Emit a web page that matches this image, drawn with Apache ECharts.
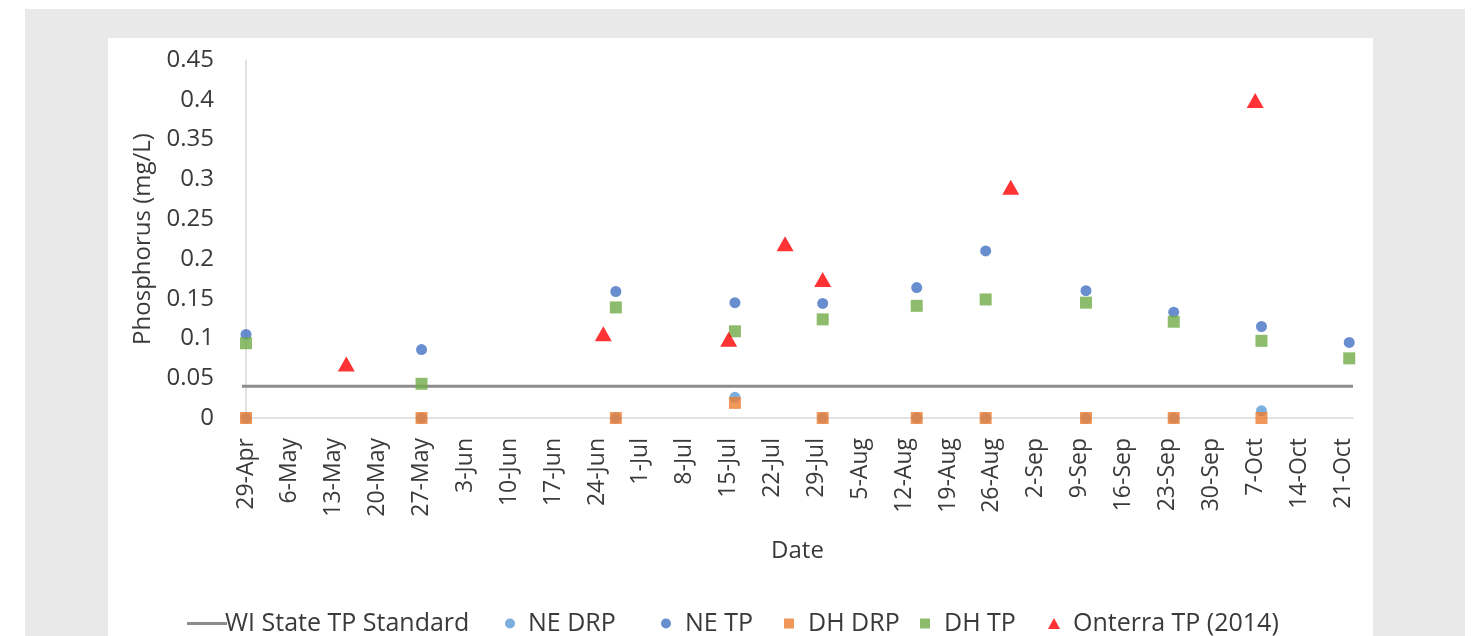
<!DOCTYPE html>
<html>
<head>
<meta charset="utf-8">
<script src="https://cdn.jsdelivr.net/npm/echarts@6/dist/echarts.min.js"></script>
<style>
  html, body { margin: 0; padding: 0; width: 1473px; height: 636px; background: #ffffff; overflow: hidden; }
  #frame { position: absolute; left: 25px; top: 9px; width: 1440px; height: 627px; background: #e9e9e9; }
  #panel { position: absolute; left: 108px; top: 38px; width: 1265px; height: 598px; background: #ffffff; }
  #chart { position: absolute; left: 0; top: 0; width: 1473px; height: 636px; }
</style>
</head>
<body>
<div id="frame"></div>
<div id="panel"></div>
<div id="chart"></div>
<script>
// Weekly date ticks along the season axis
const xTickLabels = ['29-Apr', '6-May', '13-May', '20-May', '27-May', '3-Jun', '10-Jun', '17-Jun', '24-Jun',
  '1-Jul', '8-Jul', '15-Jul', '22-Jul', '29-Jul', '5-Aug', '12-Aug', '19-Aug', '26-Aug', '2-Sep', '9-Sep',
  '16-Sep', '23-Sep', '30-Sep', '7-Oct', '14-Oct', '21-Oct'];
const yTickLabels = ['0', '0.05', '0.1', '0.15', '0.2', '0.25', '0.3', '0.35', '0.4', '0.45'];

// Sampling dates at the NE and DH sites
const sampleDates = ['29-Apr', '27-May', '27-Jun', '16-Jul', '30-Jul', '14-Aug', '25-Aug', '10-Sep', '24-Sep', '8-Oct', '22-Oct'];
const neDRP = [0, 0, 0, 0.026, 0, 0, 0, 0, 0, 0.009, null];
const neTP  = [0.105, 0.086, 0.159, 0.145, 0.144, 0.164, 0.210, 0.160, 0.133, 0.115, 0.095];
const dhDRP = [0, 0, 0, 0.019, 0, 0, 0, 0, 0, 0, null];
const dhTP  = [0.094, 0.043, 0.139, 0.109, 0.124, 0.141, 0.149, 0.145, 0.121, 0.097, 0.075];

// Onterra 2014 total phosphorus
const onterraDates = ['15-May', '25-Jun', '15-Jul', '24-Jul', '30-Jul', '29-Aug', '7-Oct'];
const onterraTP    = [0.068, 0.106, 0.099, 0.219, 0.174, 0.290, 0.399];

// Wisconsin state total phosphorus standard (mg/L)
const stateStandard = 0.04;

// Axis span in days from 29-Apr
const axisMin = -0.64;
const axisMax = 176.6;

const monthStart = { Apr: 90, May: 120, Jun: 151, Jul: 181, Aug: 212, Sep: 243, Oct: 273 };
function dayOf(label) {
  const [d, m] = label.split('-');
  return monthStart[m] + Number(d) - (monthStart.Apr + 29);
}
function pairs(dates, values) {
  return dates.map((d, i) => [dayOf(d), values[i]]).filter(p => p[1] !== null);
}
const tickDays = xTickLabels.map(dayOf);
const tickLabelByDay = {};
xTickLabels.forEach((l, i) => { tickLabelByDay[tickDays[i]] = l; });

const FONT = 'Open Sans';
const TEXT = '#3a3a3a';
const LEGEND_TOP = 606;

// One legend block per entry so each sits at its own spot along the bottom row
function legendEntry(name, icon, left, w, h, gap) {
  return {
    data: [{ name: name, icon: icon }],
    left: left, top: LEGEND_TOP, height: 28,
    itemWidth: w, itemHeight: h,
    textStyle: { fontFamily: FONT, fontSize: 25, color: TEXT, padding: [0, 0, 0, gap] }
  };
}

const chart = echarts.init(document.getElementById('chart'), null, { renderer: 'canvas' });
chart.setOption({
  backgroundColor: 'transparent',
  animation: false,
  textStyle: { fontFamily: FONT },
  grid: { left: 242, right: 120, top: 60, bottom: 218, containLabel: false },
  xAxis: {
    type: 'value',
    min: axisMin,
    max: axisMax,
    name: 'Date',
    nameLocation: 'middle',
    nameGap: 121,
    nameTextStyle: { fontFamily: FONT, fontSize: 24, color: TEXT },
    axisLine: { show: true, lineStyle: { color: '#d9d9d9', width: 1.5 } },
    axisTick: { show: false },
    splitLine: { show: false },
    axisLabel: {
      customValues: tickDays,
      rotate: 90,
      margin: 20,
      fontFamily: FONT,
      fontSize: 23,
      color: TEXT,
      formatter: v => tickLabelByDay[Math.round(v)] || ''
    }
  },
  yAxis: {
    type: 'value',
    min: 0,
    max: 0.45,
    interval: 0.05,
    name: 'Phosphorus (mg/L)',
    nameLocation: 'middle',
    nameGap: 82,
    nameTextStyle: { fontFamily: FONT, fontSize: 24, color: TEXT },
    axisLine: { show: true, lineStyle: { color: '#d9d9d9', width: 1.5 } },
    axisTick: { show: false },
    splitLine: { show: false },
    axisLabel: {
      margin: 28,
      fontFamily: FONT,
      fontSize: 24,
      color: TEXT,
      formatter: (v, i) => yTickLabels[i]
    }
  },
  legend: [
    legendEntry('WI State TP Standard', 'path://M0,0H40V3H0Z', 182, 40, 3, -7),
    legendEntry('NE DRP', 'circle', 500, 10, 10, 8),
    legendEntry('NE TP', 'circle', 656, 10, 10, 9),
    legendEntry('DH DRP', 'rect', 779, 10, 10, 9),
    legendEntry('DH TP', 'rect', 915, 10, 10, 9),
    legendEntry('Onterra TP (2014)', 'triangle', 1043, 12, 11, 8)
  ],
  series: [
    {
      name: 'WI State TP Standard',
      type: 'line',
      data: [[axisMin, stateStandard], [axisMax, stateStandard]],
      showSymbol: false,
      symbol: 'none',
      lineStyle: { color: '#8c8c8c', width: 3 },
      itemStyle: { color: '#8c8c8c' },
      z: 1
    },
    {
      name: 'NE DRP', type: 'scatter', data: pairs(sampleDates, neDRP),
      symbol: 'circle', symbolSize: 11, itemStyle: { color: '#5b9bd5' }, z: 2
    },
    {
      name: 'NE TP', type: 'scatter', data: pairs(sampleDates, neTP),
      symbol: 'circle', symbolSize: 11, itemStyle: { color: '#4472c4' }, z: 3
    },
    {
      name: 'DH DRP', type: 'scatter', data: pairs(sampleDates, dhDRP),
      symbol: 'rect', symbolSize: 12, itemStyle: { color: '#ed7d31' }, z: 4
    },
    {
      name: 'DH TP', type: 'scatter', data: pairs(sampleDates, dhTP),
      symbol: 'rect', symbolSize: 12, itemStyle: { color: '#70ad47' }, z: 5
    },
    {
      name: 'Onterra TP (2014)', type: 'scatter', data: pairs(onterraDates, onterraTP),
      symbol: 'triangle', symbolSize: [17, 15], itemStyle: { color: '#ff0000' }, z: 6
    }
  ]
});
</script>
</body>
</html>
